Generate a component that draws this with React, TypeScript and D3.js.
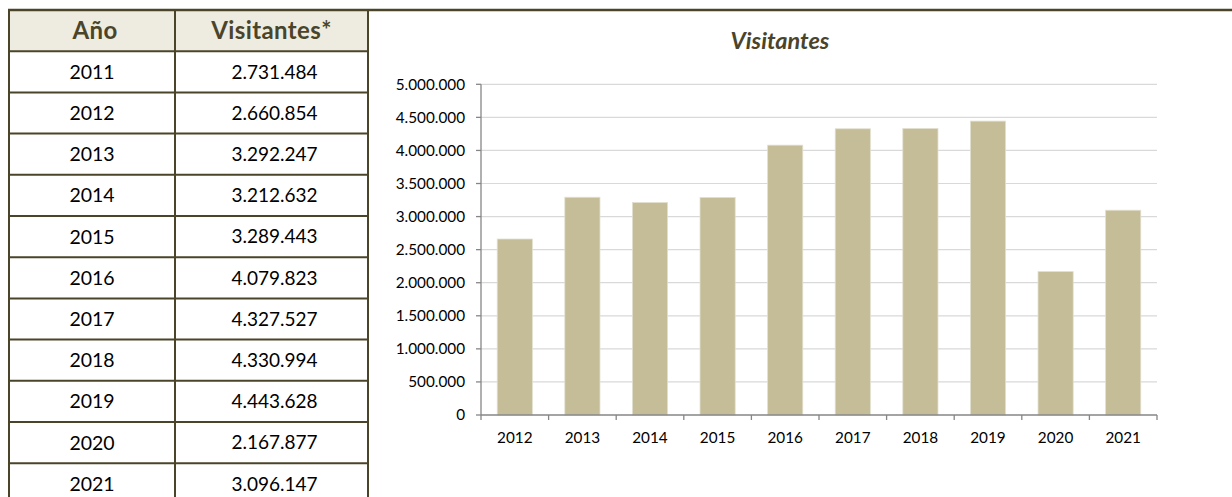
import React from "react";
import * as d3 from "d3";

const years = ["2011", "2012", "2013", "2014", "2015", "2016", "2017", "2018", "2019", "2020", "2021"];
const visitors = [2731484, 2660854, 3292247, 3212632, 3289443, 4079823, 4327527, 4330994, 4443628, 2167877, 3096147];
const chartYears = years.slice(1);
const chartValues = visitors.slice(1);
const yTicks = [0, 500000, 1000000, 1500000, 2000000, 2500000, 3000000, 3500000, 4000000, 4500000, 5000000];
const headers = ["Año", "Visitantes*"];
const chartTitle = "Visitantes";

const esLocale = d3.formatLocale({ decimal: ",", thousands: ".", grouping: [3], currency: ["", "€"] });
const fmt = esLocale.format(",d");

const W = 1232;
const H = 497;
const border = "#4a4529";
const font = "Lato, 'Open Sans', sans-serif";

export default function App() {
  // table geometry
  const tTop = 10;
  const rowH = 41.2;
  const colX = [9, 175, 368];
  const rowsY = d3.range(years.length + 2).map((i) => tTop + i * rowH);

  // chart geometry
  const x = d3.scaleBand<string>().domain(chartYears).range([481, 1157]).paddingInner(0.48).paddingOuter(0.24);
  const xb = d3.scaleBand<string>().domain(chartYears).range([481, 1157]);
  const y = d3.scaleLinear().domain([0, 5000000]).range([415, 84.3]);

  return (
    <svg width={W} height={H} style={{ position: "absolute", left: 0, top: 0, background: "#fff" }}>
      {/* table header background */}
      <rect x={colX[0]} y={tTop} width={colX[2] - colX[0]} height={rowH} fill="#eeece1" />
      {headers.map((h, i) => (
        <text
          key={h}
          x={(colX[i] + colX[i + 1]) / 2 + (i === 0 ? 3 : 0)}
          y={tTop + rowH / 2}
          dy="0.37em"
          textAnchor="middle"
          fontFamily={font}
          fontWeight={700}
          fontSize={24}
          letterSpacing={0.4}
          fill="#4a452a"
        >
          {h}
        </text>
      ))}
      {years.map((yr, i) => (
        <g key={yr}>
          <text
            x={(colX[0] + colX[1]) / 2}
            y={tTop + rowH * (i + 1) + rowH / 2}
            dy="0.36em"
            textAnchor="middle"
            fontFamily={font}
            fontSize={19.5}
            fill="#000"
          >
            {yr}
          </text>
          <text
            x={(colX[1] + colX[2]) / 2 + 3}
            y={tTop + rowH * (i + 1) + rowH / 2}
            dy="0.36em"
            textAnchor="middle"
            fontFamily={font}
            fontSize={19}
            fill="#000"
          >
            {fmt(visitors[i])}
          </text>
        </g>
      ))}
      {/* table row lines */}
      {rowsY.slice(1).map((ry, i) => (
        <line key={i} x1={colX[0]} x2={colX[2]} y1={ry} y2={ry} stroke={border} strokeWidth={2} />
      ))}
      {colX.map((cx, i) => (
        <line key={i} x1={cx} x2={cx} y1={tTop} y2={H} stroke={border} strokeWidth={2} />
      ))}
      {/* top line across full width */}
      <line x1={8} x2={W} y1={tTop} y2={tTop} stroke={border} strokeWidth={2.5} />

      {/* chart title */}
      <text x={780} y={49} textAnchor="middle" fontFamily={font} fontWeight={700} fontStyle="italic" fontSize={23.5} fill="#4a452a">
        {chartTitle}
      </text>

      {/* gridlines */}
      {yTicks.slice(1).map((t) => (
        <line key={t} x1={481} x2={1157} y1={y(t)} y2={y(t)} stroke="#d9d9d9" strokeWidth={1.2} />
      ))}

      {/* bars */}
      {chartYears.map((yr, i) => (
        <rect
          key={yr}
          x={x(yr)}
          y={y(chartValues[i])}
          width={x.bandwidth()}
          height={y(0) - y(chartValues[i])}
          fill="#c4bd97"
          stroke="#e2dfcf"
          strokeWidth={0.8}
        />
      ))}

      {/* y axis */}
      <line x1={481} x2={481} y1={y(5000000)} y2={y(0)} stroke="#868686" strokeWidth={1.3} />
      {yTicks.map((t) => (
        <g key={t}>
          <line x1={476} x2={481} y1={y(t)} y2={y(t)} stroke="#868686" strokeWidth={1.3} />
          <text x={465} y={y(t)} dy="0.35em" textAnchor="end" fontFamily={font} fontSize={15.3} fill="#000">
            {fmt(t)}
          </text>
        </g>
      ))}

      {/* x axis */}
      <line x1={481} x2={1157} y1={y(0)} y2={y(0)} stroke="#868686" strokeWidth={1.3} />
      {chartYears.map((yr) => (
        <line key={yr} x1={xb(yr)!} x2={xb(yr)!} y1={y(0)} y2={y(0) + 5} stroke="#868686" strokeWidth={1.3} />
      ))}
      <line x1={1157} x2={1157} y1={y(0)} y2={y(0) + 5} stroke="#868686" strokeWidth={1.3} />
      {chartYears.map((yr) => (
        <text
          key={yr}
          x={xb(yr)! + xb.bandwidth() / 2}
          y={438}
          dy="0.35em"
          textAnchor="middle"
          fontFamily={font}
          fontSize={15.3}
          fill="#000"
        >
          {yr}
        </text>
      ))}
    </svg>
  );
}
